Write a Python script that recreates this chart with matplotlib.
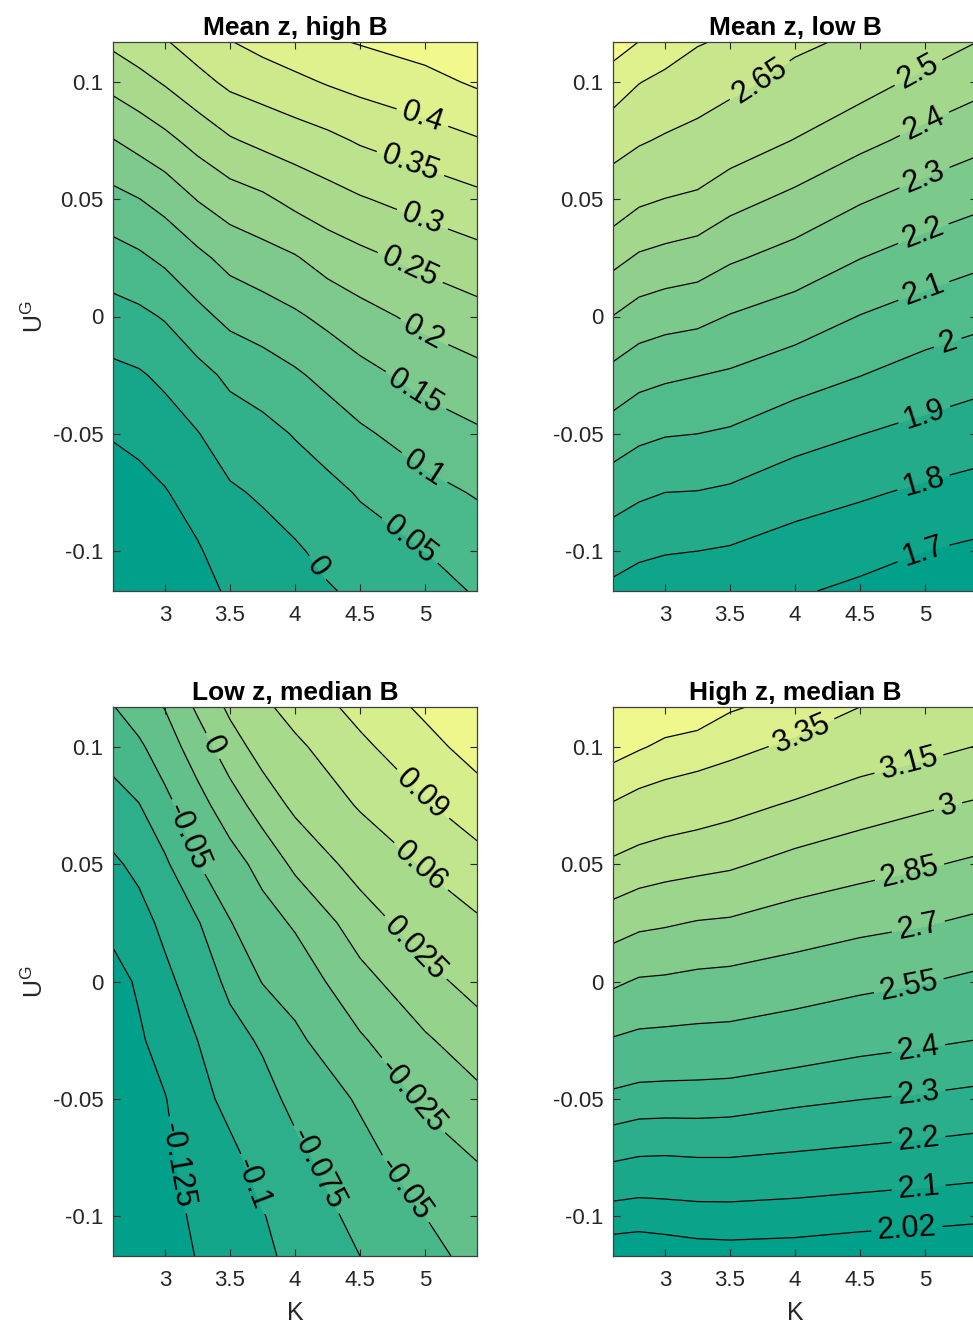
import numpy as np
import matplotlib.pyplot as plt
from matplotlib.colors import LinearSegmentedColormap

plt.rcParams['font.family'] = ['Liberation Sans', 'DejaVu Sans']
plt.rcParams['axes.unicode_minus'] = False
plt.rcParams['mathtext.default'] = 'regular'
plt.rcParams['contour.negative_linestyle'] = 'solid'

# U^G rows, top row first (shared by all four surfaces)
U = [0.117, 0.1, 0.075, 0.05, 0.025, 0.0, -0.025, -0.05, -0.075, -0.1, -0.117]

K_mean_highB = [2.6, 2.8, 3.0, 3.25, 3.5, 3.75, 4.0, 4.25, 4.5, 5.0, 5.4]
z_mean_highB = [
    [0.310, 0.329, 0.346, 0.374, 0.398, 0.416, 0.431, 0.4435, 0.453, 0.471, 0.490],
    [0.266, 0.284, 0.305, 0.334, 0.361, 0.374, 0.389, 0.404, 0.416, 0.435, 0.457],
    [0.198, 0.217, 0.237, 0.267, 0.295, 0.312, 0.325, 0.338, 0.355, 0.378, 0.396],
    [0.135, 0.149, 0.168, 0.202, 0.226, 0.241, 0.264, 0.281, 0.296, 0.320, 0.338],
    [0.080, 0.092, 0.110, 0.138, 0.166, 0.181, 0.196, 0.221, 0.237, 0.265, 0.283],
    [0.030, 0.039, 0.054, 0.086, 0.113, 0.127, 0.143, 0.162, 0.182, 0.214, 0.233],
    [-0.012, -0.005, 0.010, 0.034, 0.060, 0.075, 0.093, 0.114, 0.134, 0.167, 0.186],
    [-0.046, -0.037, -0.023, -0.002, 0.024, 0.035, 0.053, 0.071, 0.092, 0.124, 0.143],
    [-0.076, -0.066, -0.053, -0.029, -0.006, 0.006, 0.023, 0.037, 0.054, 0.085, 0.104],
    [-0.088, -0.085, -0.081, -0.055, -0.026, -0.018, -0.006, 0.012, 0.028, 0.050, 0.071],
    [-0.095, -0.092, -0.088, -0.065, -0.044, -0.032, -0.018, -0.004, 0.009, 0.032, 0.054],
]

K_mean_lowB = [2.6, 2.8, 3.0, 3.25, 3.5, 4.0, 4.5, 5.0, 5.4]
z_mean_lowB = [
    [3.020, 2.948, 2.876, 2.810, 2.780, 2.679, 2.623, 2.550, 2.500],
    [2.877, 2.805, 2.765, 2.726, 2.688, 2.603, 2.543, 2.475, 2.431],
    [2.708, 2.664, 2.634, 2.604, 2.560, 2.496, 2.427, 2.368, 2.328],
    [2.563, 2.518, 2.498, 2.480, 2.435, 2.375, 2.310, 2.259, 2.225],
    [2.429, 2.387, 2.369, 2.352, 2.313, 2.263, 2.202, 2.155, 2.123],
    [2.298, 2.257, 2.238, 2.226, 2.195, 2.153, 2.097, 2.055, 2.027],
    [2.171, 2.133, 2.116, 2.102, 2.088, 2.044, 2.002, 1.959, 1.933],
    [2.055, 2.022, 2.006, 2.000, 1.988, 1.938, 1.902, 1.871, 1.848],
    [1.943, 1.916, 1.900, 1.897, 1.885, 1.841, 1.813, 1.784, 1.765],
    [1.842, 1.818, 1.806, 1.800, 1.791, 1.759, 1.733, 1.700, 1.682],
    [1.778, 1.755, 1.745, 1.740, 1.734, 1.710, 1.681, 1.648, 1.627],
]

K_low_medB = [2.6, 2.8, 3.0, 3.25, 3.5, 3.75, 4.0, 4.5, 5.0, 5.4]
z_low_medB = [
    [-0.051, -0.038, -0.024, 0.004, 0.030, 0.054, 0.071, 0.099, 0.126, 0.145],
    [-0.065, -0.054, -0.037, -0.013, 0.014, 0.035, 0.054, 0.084, 0.110, 0.132],
    [-0.085, -0.076, -0.057, -0.034, -0.012, 0.011, 0.030, 0.063, 0.087, 0.105],
    [-0.104, -0.094, -0.079, -0.051, -0.035, -0.017, 0.005, 0.035, 0.063, 0.080],
    [-0.119, -0.109, -0.094, -0.077, -0.051, -0.035, -0.022, 0.012, 0.039, 0.056],
    [-0.133, -0.122, -0.106, -0.088, -0.070, -0.049, -0.040, -0.008, 0.017, 0.034],
    [-0.137, -0.128, -0.116, -0.100, -0.083, -0.072, -0.055, -0.028, -0.003, 0.013],
    [-0.140, -0.133, -0.126, -0.107, -0.094, -0.083, -0.069, -0.047, -0.021, -0.006],
    [-0.142, -0.136, -0.130, -0.114, -0.105, -0.092, -0.081, -0.058, -0.036, -0.024],
    [-0.143, -0.138, -0.133, -0.121, -0.111, -0.101, -0.091, -0.068, -0.050, -0.039],
    [-0.144, -0.140, -0.135, -0.124, -0.114, -0.104, -0.095, -0.075, -0.055, -0.045],
]

K_high_medB = [2.6, 2.8, 3.0, 3.25, 3.5, 4.0, 4.5, 5.0, 5.4]
z_high_medB = [
    [3.640, 3.620, 3.600, 3.588, 3.516, 3.450, 3.350, 3.298, 3.257],
    [3.562, 3.514, 3.470, 3.438, 3.397, 3.316, 3.236, 3.188, 3.146],
    [3.335, 3.283, 3.255, 3.227, 3.196, 3.131, 3.068, 3.018, 2.982],
    [3.122, 3.084, 3.059, 3.040, 3.020, 2.952, 2.905, 2.863, 2.827],
    [2.919, 2.880, 2.865, 2.842, 2.832, 2.781, 2.739, 2.709, 2.674],
    [2.723, 2.686, 2.679, 2.6625, 2.654, 2.621, 2.584, 2.555, 2.521],
    [2.540, 2.518, 2.512, 2.506, 2.502, 2.471, 2.438, 2.417, 2.399],
    [2.372, 2.354, 2.351, 2.350, 2.345, 2.320, 2.302, 2.287, 2.272],
    [2.211, 2.1975, 2.195, 2.200, 2.200, 2.187, 2.174, 2.160, 2.148],
    [2.062, 2.055, 2.061, 2.067, 2.068, 2.062, 2.051, 2.042, 2.034],
    [1.970, 1.965, 1.972, 1.984, 1.988, 1.984, 1.972, 1.967, 1.960],
]

levels_mean_highB = [-0.05, 0, 0.05, 0.1, 0.15, 0.2, 0.25, 0.3, 0.35, 0.4, 0.45]
levels_mean_lowB = [1.7, 1.8, 1.9, 2.0, 2.1, 2.2, 2.3, 2.4, 2.5, 2.65, 2.8, 2.95]
levels_low_medB = [-0.125, -0.1, -0.075, -0.05, -0.025, 0, 0.025, 0.06, 0.09, 0.12]
levels_high_medB = [2.02, 2.1, 2.2, 2.3, 2.4, 2.55, 2.7, 2.85, 3.0, 3.15, 3.35, 3.5]

titles = ['Mean z, high B', 'Mean z, low B', 'Low z, median B', 'High z, median B']

# where the inline labels sit (K, U) for each labelled level
labels_mean_highB = {0.4: [(4.97, 0.083)], 0.35: [(4.88, 0.064)], 0.3: [(4.97, 0.040)],
                     0.25: [(4.88, 0.020)], 0.2: [(4.98, -0.008)], 0.15: [(4.90, -0.034)],
                     0.1: [(4.99, -0.065)], 0.05: [(4.85, -0.098)], 0: [(4.15, -0.108)]}
labels_mean_lowB = {2.65: [(3.75, 0.099)], 2.5: [(4.95, 0.104)], 2.4: [(4.98, 0.084)],
                    2.3: [(4.99, 0.060)], 2.2: [(4.99, 0.035)], 2.1: [(4.99, 0.011)],
                    2.0: [(5.18, -0.012)], 1.9: [(4.99, -0.041)], 1.8: [(4.99, -0.071)],
                    1.7: [(4.99, -0.101)]}
labels_low_medB = {0: [(3.32, 0.099)], -0.05: [(3.15, 0.061), (4.86, -0.088)],
                   0.09: [(4.95, 0.078)], 0.06: [(4.95, 0.048)], 0.025: [(4.92, 0.014)],
                   -0.025: [(4.88, -0.050)], -0.125: [(3.11, -0.078)],
                   -0.1: [(3.69, -0.086)], -0.075: [(4.17, -0.080)]}
labels_high_medB = {3.35: [(4.05, 0.106)], 3.15: [(4.88, 0.092)], 3.0: [(5.18, 0.074)],
                    2.85: [(4.88, 0.047)], 2.7: [(4.95, 0.023)], 2.55: [(4.88, -0.003)],
                    2.4: [(4.95, -0.029)], 2.3: [(4.95, -0.048)], 2.2: [(4.95, -0.067)],
                    2.1: [(4.95, -0.087)], 2.02: [(4.86, -0.105)]}

cmap = LinearSegmentedColormap.from_list(
    'teal_yellow', [(0.0, '#00a08a'), (0.5, '#96d28c'), (1.0, '#ffff8c')])


def band_colors(z, levels):
    zmin, zmax = np.min(z), np.max(z)
    lows = [zmin] + list(levels)
    return [cmap((v - zmin) / (zmax - zmin)) for v in lows]


def fmt(v):
    return f'{v:g}'


W, H = 973, 1323
fig = plt.figure(figsize=(W / 100, H / 100), dpi=100)

boxes = [(113, 42), (613, 42), (113, 707), (613, 707)]
grids = [K_mean_highB, K_mean_lowB, K_low_medB, K_high_medB]
surfaces = [z_mean_highB, z_mean_lowB, z_low_medB, z_high_medB]
level_sets = [levels_mean_highB, levels_mean_lowB, levels_low_medB, levels_high_medB]
label_sets = [labels_mean_highB, labels_mean_lowB, labels_low_medB, labels_high_medB]

for i in range(4):
    x0, y0 = boxes[i]
    ax = fig.add_axes([x0 / W, 1 - (y0 + 549) / H, 364 / W, 549 / H])
    k = grids[i]
    z = np.array(surfaces[i])
    lv = level_sets[i]
    fill_levels = [z.min() - 1] + lv + [z.max() + 1]
    ax.contourf(k, U, z, levels=fill_levels, colors=band_colors(z, lv))
    # one line set per level so each label lands on its own contour
    for v in lv:
        cs = ax.contour(k, U, z, levels=[v], colors='k', linewidths=0.9)
        spots = [p for key, pts in label_sets[i].items() if abs(key - v) < 1e-9 for p in pts]
        if spots:
            ax.clabel(cs, manual=spots, inline=True, inline_spacing=6,
                      fontsize=22, fmt=fmt)

    ax.set_xlim(2.6, 5.4)
    ax.set_ylim(-0.117, 0.117)
    ax.set_xticks([3, 3.5, 4, 4.5, 5])
    ax.set_xticklabels(['3', '3.5', '4', '4.5', '5'])
    ax.set_yticks([-0.1, -0.05, 0, 0.05, 0.1])
    ax.set_yticklabels(['-0.1', '-0.05', '0', '0.05', '0.1'])
    ax.tick_params(direction='in', top=True, right=True, length=5, width=0.8,
                   colors='#262626', labelsize=16)
    ax.tick_params(axis='x', pad=10)
    ax.tick_params(axis='y', pad=7)
    for sp in ax.spines.values():
        sp.set_color('#404040')
        sp.set_linewidth(0.9)
    ax.set_title(titles[i], fontsize=19, fontweight='bold', pad=5)
    if i >= 2:
        ax.set_xlabel('K', fontsize=18, color='#262626', labelpad=7)
    if i % 2 == 0:
        ax.set_ylabel('U$^{G}$', fontsize=18, color='#262626', labelpad=3)

fig.savefig('out.png', dpi=100)
